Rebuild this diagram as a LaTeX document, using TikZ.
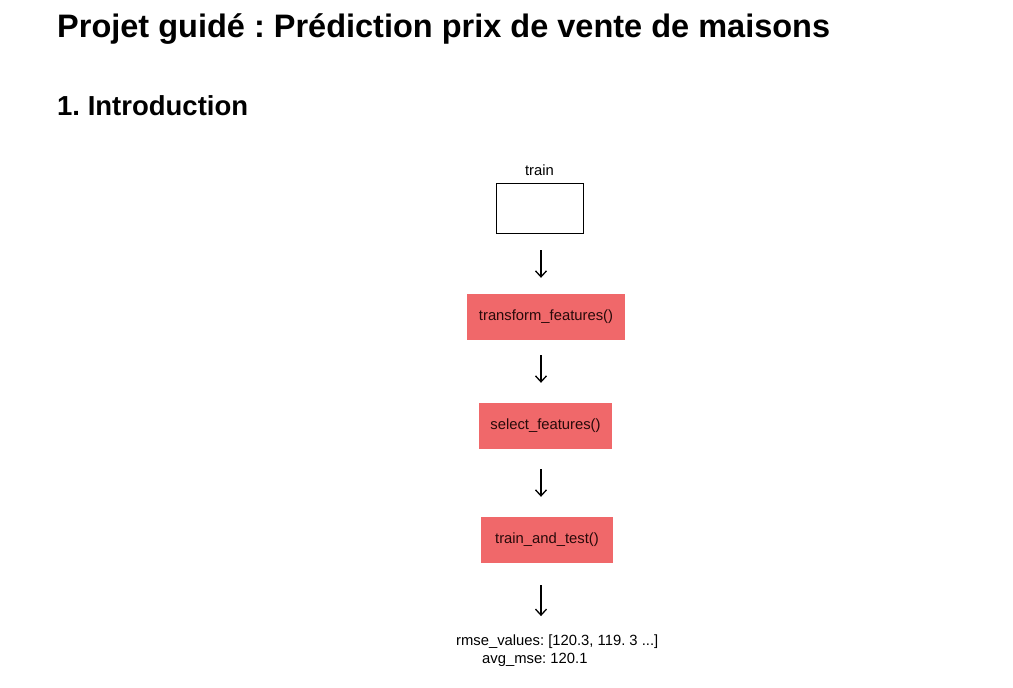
\documentclass[tikz,border=0pt]{standalone}
\usepackage{fontspec}
\setmainfont{Liberation Sans}
\usetikzlibrary{arrows.meta}
\definecolor{boxred}{RGB}{240,104,106}
\definecolor{txtdark}{RGB}{40,10,10}
\frenchspacing
\tikzset{
  fnbox/.style={fill=boxred, draw=none, inner sep=0pt, font=\fontsize{14.8}{16}\selectfont, text=txtdark},
  flowarrow/.style={line width=1.3pt, -{Straight Barb[length=6pt,width=11pt,line width=1.3pt]}},
  plain/.style={inner sep=0pt, font=\fontsize{14.8}{16}\selectfont}
}
\begin{document}
\begin{tikzpicture}[x=1pt,y=-1pt]
\useasboundingbox (0,0) rectangle (1013,688);
\node[anchor=base west, inner sep=0pt, font=\fontsize{32.5}{36}\selectfont\bfseries] (title) at (57,37) {Projet guidé : Prédiction prix de vente de maisons};
\node[anchor=base west, inner sep=0pt, font=\fontsize{27.5}{30}\selectfont\bfseries] (intro) at (57,115) {1. Introduction};
\coordinate (ax) at (541,0);
\node[draw=black, line width=0.8pt, minimum width=87pt, minimum height=50pt, inner sep=0pt] (train) at (539.5,208) {};
\node[plain, anchor=base] (trainlbl) at (539.5,175) {train};
\node[fnbox, minimum width=158pt, minimum height=46pt] (tf) at (546,317) {transform\_features()};
\node[fnbox, minimum width=133pt, minimum height=46pt] (sf) at (545.5,426) {select\_features()};
\node[fnbox, minimum width=132pt, minimum height=46pt] (tt) at (547,540) {train\_and\_test()};
\node[plain, anchor=base west] (out1) at (456,645) {rmse\_values: [120.3, 119. 3 ...]};
\node[plain, anchor=base west] (out2) at (482,663) {avg\_mse: 120.1};
\draw[flowarrow, shorten <=17pt, shorten >=16pt] (train.south -| ax) -- (tf.north -| ax);
\draw[flowarrow, shorten <=15pt, shorten >=20pt] (tf.south -| ax) -- (sf.north -| ax);
\draw[flowarrow, shorten <=20pt, shorten >=20pt] (sf.south -| ax) -- (tt.north -| ax);
\draw[flowarrow, shorten <=22pt, shorten >=18pt] (tt.south -| ax) -- (out1.north -| ax);
\end{tikzpicture}
\end{document}
